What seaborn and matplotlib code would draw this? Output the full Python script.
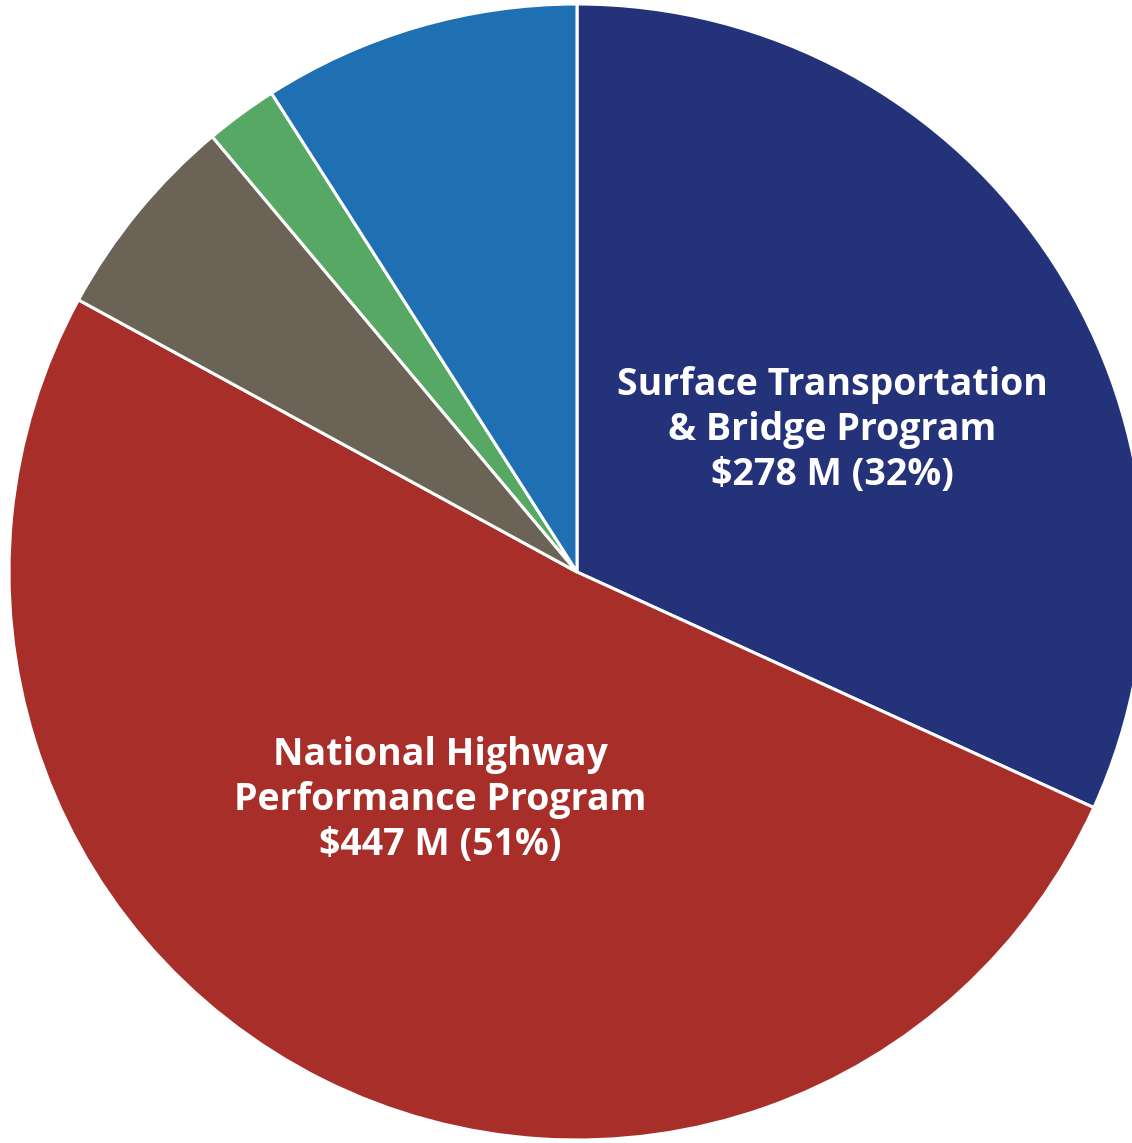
import matplotlib
matplotlib.use("Agg")
import matplotlib.pyplot as plt
import seaborn as sns

# Program funding ($M), clockwise from top
programs = ['Surface Transportation & Bridge Program', 'National Highway Performance Program',
            'Other A', 'Other B', 'Other C']
funding = [278, 447, 52, 18, 79]
colors = ['#24327a', '#a82e2a', '#6b6355', '#57a865', '#1f70b3']
big_labels = {0: 'Surface Transportation\n& Bridge Program\n$278 M (32%)',
              1: 'National Highway\nPerformance Program\n$447 M (51%)'}

sns.set_style('white')
plt.rcParams['font.family'] = ['Open Sans', 'DejaVu Sans']

fig = plt.figure(figsize=(11.32, 11.43), dpi=100)
ax = fig.add_axes([0, 0, 1, 1])
ax.pie(funding, colors=colors, startangle=90, counterclock=False, radius=1,
       wedgeprops=dict(edgecolor='white', linewidth=2.2))

# label positions (in data units of the pie)
ax.text(0.45, 0.25, big_labels[0], color='white', fontsize=27, fontweight='bold',
        ha='center', va='center', linespacing=1.24)
ax.text(-0.241, -0.401, big_labels[1], color='white', fontsize=27, fontweight='bold',
        ha='center', va='center', linespacing=1.24)

ax.set_xlim(-577 / 568, (1132 - 577) / 568)
ax.set_ylim(-571 / 568, 572 / 568)
ax.set_aspect('auto')
ax.axis('off')

fig.savefig('out.png', dpi=100)
